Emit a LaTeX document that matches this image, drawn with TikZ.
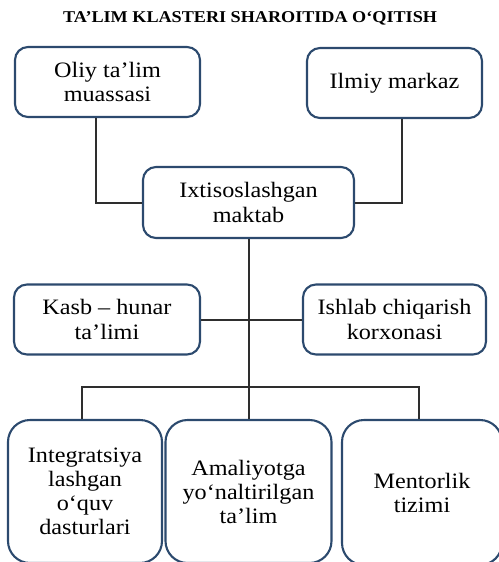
\documentclass[tikz,border=0pt]{standalone}
\usepackage{fontspec}
\setmainfont{Liberation Serif}[FakeStretch=1.1]
\definecolor{boxline}{HTML}{2C4A6E}
\definecolor{conn}{HTML}{2E2E2E}
\tikzset{
  topbox/.style={draw=boxline, line width=2.1pt, rounded corners=13pt, align=center,
    font=\fontsize{22}{24.5}\selectfont, inner sep=2pt},
  botbox/.style={draw=boxline, line width=2.1pt, rounded corners=22pt, align=center,
    font=\fontsize{22}{24}\selectfont, inner sep=2pt},
  link/.style={draw=conn, line width=2pt},
  titletext/.style={font=\fontsize{16.5}{18}\selectfont\bfseries}
}
\begin{document}
\begin{tikzpicture}[x=1pt,y=-1pt]
\useasboundingbox (0,0) rectangle (498,562);
\node[titletext] (title) at (250,18) {TA’LIM KLASTERI SHAROITIDA O‘QITISH};
% top row
\node[topbox, minimum width=185pt, minimum height=70pt] (b1) at (107.5,82) {Oliy ta’lim\\muassasi};
\node[topbox, minimum width=175pt, minimum height=70pt] (b2) at (394.5,83) {Ilmiy markaz};
% center
\node[topbox, minimum width=211pt, minimum height=71pt] (b3) at (248.5,202.5) {Ixtisoslashgan\\maktab};
% middle row
\node[topbox, minimum width=186pt, minimum height=70pt] (b4) at (107,319.5) {Kasb – hunar\\ta’limi};
\node[topbox, minimum width=183pt, minimum height=70pt] (b5) at (394.5,319.5) {Ishlab chiqarish\\korxonasi};
% bottom row
\node[botbox, minimum width=154pt, minimum height=143pt] (b6) at (85,491.5) {Integratsiya\\lashgan\\o‘quv\\dasturlari};
\node[botbox, minimum width=166pt, minimum height=143pt] (b7) at (248.5,491.5) {Amaliyotga\\yo‘naltirilgan\\ta’lim};
\node[botbox, minimum width=160pt, minimum height=145pt] (b8) at (422,492.5) {Mentorlik\\tizimi};
% connectors
\draw[link] ([xshift=-11.5pt]b1.south) |- (b3.west);
\draw[link] ([xshift=7.5pt]b2.south) |- (b3.east);
\draw[link] (b3.south) -- (b7.north);
\draw[link] (b4.east) -- (b5.west);
\draw[link] ([xshift=-3pt]b6.north) -- ++(0,-32) -| ([xshift=-3pt]b8.north);
\end{tikzpicture}
\end{document}
